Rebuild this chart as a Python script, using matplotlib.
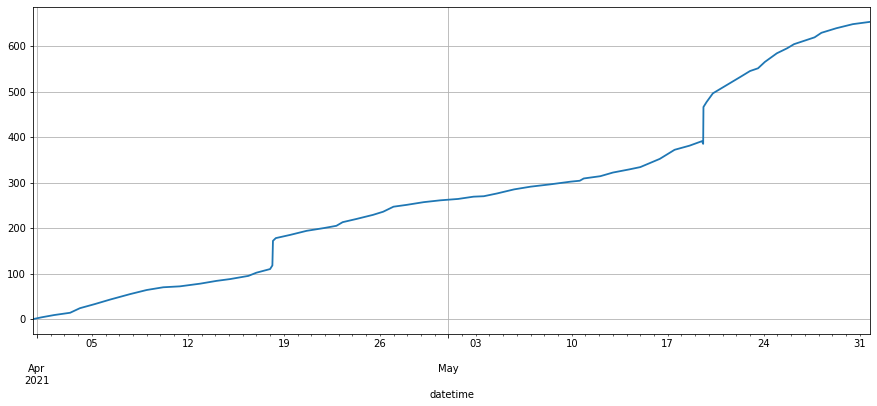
import matplotlib
matplotlib.use("Agg")
import matplotlib.pyplot as plt
import matplotlib.dates as mdates
import matplotlib.ticker as mticker
import pandas as pd

# cumulative count
times = [
    "2021-03-31 17:00", "2021-04-01 08:00", "2021-04-02 06:00", "2021-04-03 10:00",
    "2021-04-04 03:00", "2021-04-05 05:00", "2021-04-06 08:00", "2021-04-07 19:00",
    "2021-04-09 00:00", "2021-04-10 05:00", "2021-04-11 10:00", "2021-04-12 22:00",
    "2021-04-14 02:00", "2021-04-15 02:00", "2021-04-16 10:00", "2021-04-17 00:00",
    "2021-04-18 00:00", "2021-04-18 04:00", "2021-04-18 05:00", "2021-04-18 10:00",
    "2021-04-19 11:00", "2021-04-20 16:00", "2021-04-21 22:00", "2021-04-22 20:00",
    "2021-04-23 07:00", "2021-04-24 07:00", "2021-04-25 12:00", "2021-04-26 06:00",
    "2021-04-27 00:00", "2021-04-27 23:00", "2021-04-29 05:00", "2021-04-30 10:00",
    "2021-05-01 17:00", "2021-05-02 20:00", "2021-05-03 14:00", "2021-05-04 13:00",
    "2021-05-05 19:00", "2021-05-07 00:00", "2021-05-08 10:00", "2021-05-09 22:00",
    "2021-05-10 14:00", "2021-05-10 21:00", "2021-05-12 02:00", "2021-05-13 00:00",
    "2021-05-14 05:00", "2021-05-15 00:00", "2021-05-15 17:00", "2021-05-16 10:00",
    "2021-05-17 12:00", "2021-05-18 14:00", "2021-05-19 12:00", "2021-05-19 14:00",
    "2021-05-19 14:30", "2021-05-19 20:00", "2021-05-20 07:00", "2021-05-21 07:00",
    "2021-05-22 07:00", "2021-05-23 00:00", "2021-05-23 14:00", "2021-05-24 02:00",
    "2021-05-24 23:00", "2021-05-25 17:00", "2021-05-26 05:00", "2021-05-27 17:00",
    "2021-05-28 05:00", "2021-05-29 07:00", "2021-05-30 12:00", "2021-05-31 18:00",
]
values = [
    0, 4, 9, 14,
    24, 33, 43, 55,
    64, 70, 72, 78,
    84, 88, 95, 102,
    110, 118, 172, 178,
    185, 194, 200, 205,
    213, 220, 229, 236,
    247, 251, 257, 261,
    264, 269, 270, 276,
    285, 291, 296, 302,
    304, 309, 314, 322,
    329, 334, 343, 352,
    372, 381, 391, 385,
    466, 477, 496, 514,
    532, 545, 551, 565,
    584, 595, 604, 619,
    629, 639, 648, 653,
]

s = pd.Series(values, index=pd.to_datetime(times))
s.index.name = "datetime"

fig = plt.figure(figsize=(877 / 72, 406 / 72), dpi=72)
ax = fig.add_axes([33 / 877, 1 - 334 / 406, (870 - 33) / 877, (334 - 7) / 406])
ax.plot(s.index, s.values, color="#1f77b4", linewidth=1.8)

ax.set_xlim(pd.Timestamp("2021-03-31 17:00"), pd.Timestamp("2021-05-31 18:00"))


def month_fmt(x, pos=None):
    d = mdates.num2date(x)
    if d.month == 4:
        return "\n\n" + d.strftime("%b\n%Y")
    return "\n\n" + d.strftime("%b")


def day_fmt(x, pos=None):
    d = mdates.num2date(x)
    return d.strftime("%d") if d.weekday() == 0 else ""


ax.xaxis.set_major_locator(mdates.MonthLocator())
ax.xaxis.set_major_formatter(mticker.FuncFormatter(month_fmt))
ax.xaxis.set_minor_locator(mdates.DayLocator())
ax.xaxis.set_minor_formatter(mticker.FuncFormatter(day_fmt))
plt.setp(ax.get_xticklabels(), ha="center", rotation=0)

ax.grid(True, color="#b0b0b0", linewidth=0.8)
ax.set_xlabel("datetime")

fig.savefig("out.png", dpi=72)
